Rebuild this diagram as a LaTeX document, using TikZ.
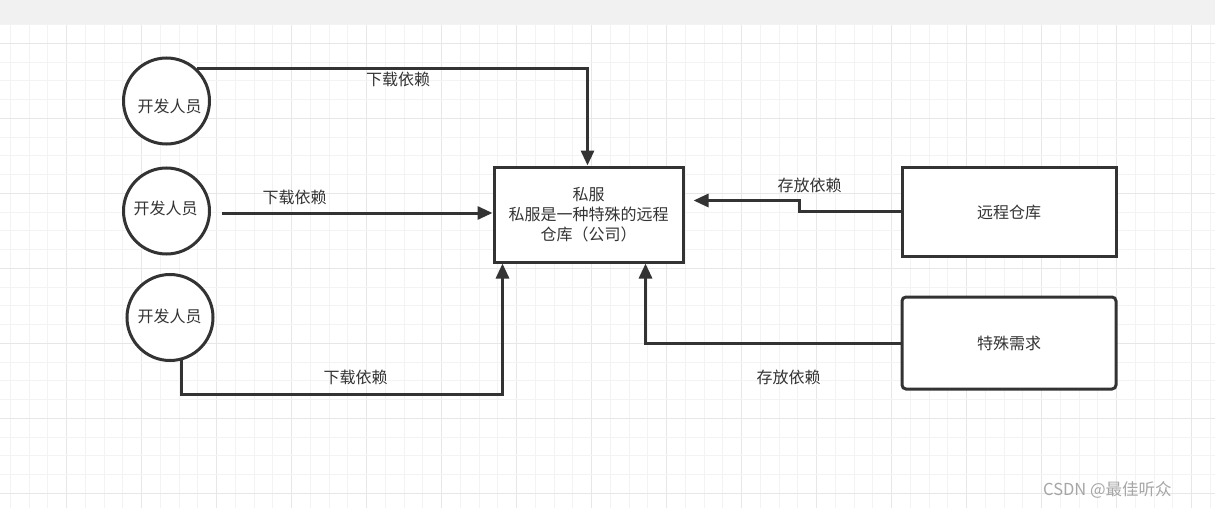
\documentclass[tikz,border=0pt]{standalone}
\usepackage{fontspec}
\newfontfamily\cjk{Noto Sans CJK SC}
\usetikzlibrary{arrows.meta}
\definecolor{ink}{HTML}{333333}
\definecolor{gminor}{HTML}{F3F3F3}
\definecolor{gmajor}{HTML}{E7E7E7}
\definecolor{band}{HTML}{F1F1F1}
\tikzset{
  txt/.style={font=\cjk\fontsize{16}{19.8}\selectfont, text=ink, inner sep=0pt, align=center},
  person/.style={circle, draw=ink, line width=3pt, fill=white, minimum size=86pt, inner sep=0pt},
  sqbox/.style={rectangle, draw=ink, line width=3pt, fill=white, inner sep=0pt},
  rbox/.style={rectangle, rounded corners=4pt, draw=ink, line width=3pt, fill=white, inner sep=0pt},
  arr/.style={draw=ink, line width=3pt, -{Triangle[length=15pt,width=13pt]}},
  wm/.style={font=\cjk\fontsize{16.5}{18}\selectfont, text=gray!70, inner sep=0pt}
}
\begin{document}
\begin{tikzpicture}[x=1pt,y=-1pt]
\useasboundingbox (0,0) rectangle (1215,508);
\fill[white] (0,0) rectangle (1215,508);
% grid
\foreach \i in {0,...,64} {
  \pgfmathsetmacro{\xx}{10.45+18.75*\i}
  \pgfmathtruncatemacro{\m}{mod(\i,4)}
  \ifnum\m=3 \draw[gmajor, line width=1pt] (\xx,24.5) -- (\xx,508);
  \else \draw[gminor, line width=1pt] (\xx,24.5) -- (\xx,508); \fi
}
\foreach \j in {0,...,26} {
  \pgfmathsetmacro{\yy}{24.55+18.75*\j}
  \pgfmathtruncatemacro{\m}{mod(\j,4)}
  \ifnum\m=1 \draw[gmajor, line width=1pt] (0,\yy) -- (1215,\yy);
  \else \draw[gminor, line width=1pt] (0,\yy) -- (1215,\yy); \fi
}
\fill[band] (0,0) rectangle (1215,24);

% nodes
\node[person] (c1) at (166.5,101) {};
\node[txt] (c1t) at (169.5,106) {开发人员};
\node[person] (c2) at (166.5,211) {};
\node[txt] (c2t) at (165.5,208) {开发人员};
\node[person] (c3) at (170,317.5) {};
\node[txt] (c3t) at (169.5,316.5) {开发人员};

\node[sqbox, minimum width=189pt, minimum height=95pt] (box) at (588.5,214.5) {};
\node[txt] (boxt) at (588.5,214.5) {私服\\私服是一种特殊的远程\\仓库（公司）};

\node[sqbox, minimum width=214pt, minimum height=89pt] (rr) at (1009,211.5) {};
\node[txt] (rrt) at (1009,212) {远程仓库};
\node[rbox, minimum width=214pt, minimum height=92pt] (sp) at (1009,343) {};
\node[txt] (spt) at (1009,343) {特殊需求};

% connectors
\draw[arr] (c1.46) -| ([xshift=95pt]box.north west);
\node[txt] (l1) at (398,79) {下载依赖};

\coordinate (m0) at (222,213);
\draw[arr] (m0) -- (box.west |- m0);
\node[txt] (l2) at (294.5,197.5) {下载依赖};

\coordinate (b0) at (0,394);
\draw[arr] (c3.-75) -- (c3.-75 |- b0) -| ([xshift=10pt]box.south west);
\node[txt] (l3) at (355.5,377.5) {下载依赖};

\coordinate (rj) at (799,200.5);
\draw[arr] (rr.west) -| (rj) -- ([xshift=9pt]box.east |- rj);
\node[txt] (l4) at (809.5,185.5) {存放依赖};

\draw[arr] (sp.west) -| ([xshift=153pt]box.south west);
\node[txt] (l5) at (788.5,377.5) {存放依赖};

\node[wm, anchor=west] (wmk) at (1043,490) {CSDN @最佳听众};
\end{tikzpicture}
\end{document}
